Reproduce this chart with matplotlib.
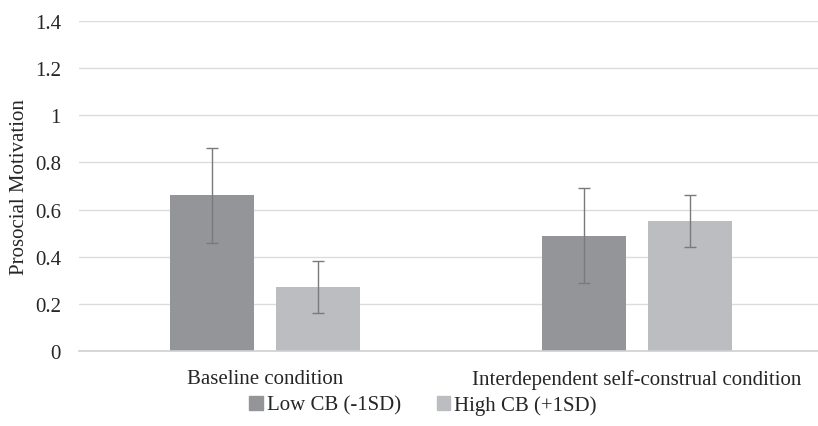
import numpy as np
import matplotlib.pyplot as plt
from matplotlib.patches import Patch

conditions = ["Baseline condition", "Interdependent self-construal condition"]
series = ["Low CB (-1SD)", "High CB (+1SD)"]
low_cb = [0.66, 0.49]
high_cb = [0.27, 0.55]
low_err = [0.20, 0.20]
high_err = [0.11, 0.11]
yticks = [0, 0.2, 0.4, 0.6, 0.8, 1, 1.2, 1.4]
ytick_labels = ["0", "0.2", "0.4", "0.6", "0.8", "1", "1.2", "1.4"]

plt.rcParams["font.family"] = ["Liberation Serif", "DejaVu Serif"]

W, H = 818, 427
fig = plt.figure(figsize=(W / 100, H / 100), dpi=100)
ax = fig.add_axes([79 / W, (H - 352) / H, 744 / W, 330 / H])

dark = "#939598"
light = "#bcbdc0"
err_color = "#7a7a7a"
txt = "#262626"
fs = 15
x = np.arange(len(conditions))
width = 0.226
offset = 0.142

ax.bar(x - offset, low_cb, width, color=dark, zorder=2)
ax.bar(x + offset, high_cb, width, color=light, zorder=2)
ax.errorbar(x - offset, low_cb, yerr=low_err, fmt="none", ecolor=err_color,
            elinewidth=1, capsize=4, capthick=1, zorder=3)
ax.errorbar(x + offset, high_cb, yerr=high_err, fmt="none", ecolor=err_color,
            elinewidth=1, capsize=4, capthick=1, zorder=3)

ax.set_xlim(-0.5, 1.5)
ax.set_ylim(0, 1.4)
ax.set_yticks(yticks)
ax.set_yticklabels(ytick_labels, fontsize=fs, color=txt)
ax.set_xticks(x)
ax.set_xticklabels(conditions, fontsize=fs, color=txt)
ax.tick_params(axis="x", length=0, pad=13)
ax.tick_params(axis="y", length=0, pad=13)
ax.yaxis.grid(True, color="#dcdcdc", linewidth=1)
ax.set_axisbelow(True)
for s in ["top", "right", "left"]:
    ax.spines[s].set_visible(False)
ax.spines["bottom"].set_color("#d0d0d0")
ax.spines["bottom"].set_linewidth(1.2)

ax.set_ylabel("Prosocial Motivation", fontsize=fs, color=txt, labelpad=4)

handles = [Patch(color=dark), Patch(color=light)]
fig.legend(handles, series, loc="center", bbox_to_anchor=(423 / W, (H - 406) / H),
           ncol=2, frameon=False, fontsize=fs, handlelength=0.65, handleheight=0.65,
           handletextpad=0.2, columnspacing=1.7, labelcolor=txt)

fig.savefig("out.png", dpi=100)
